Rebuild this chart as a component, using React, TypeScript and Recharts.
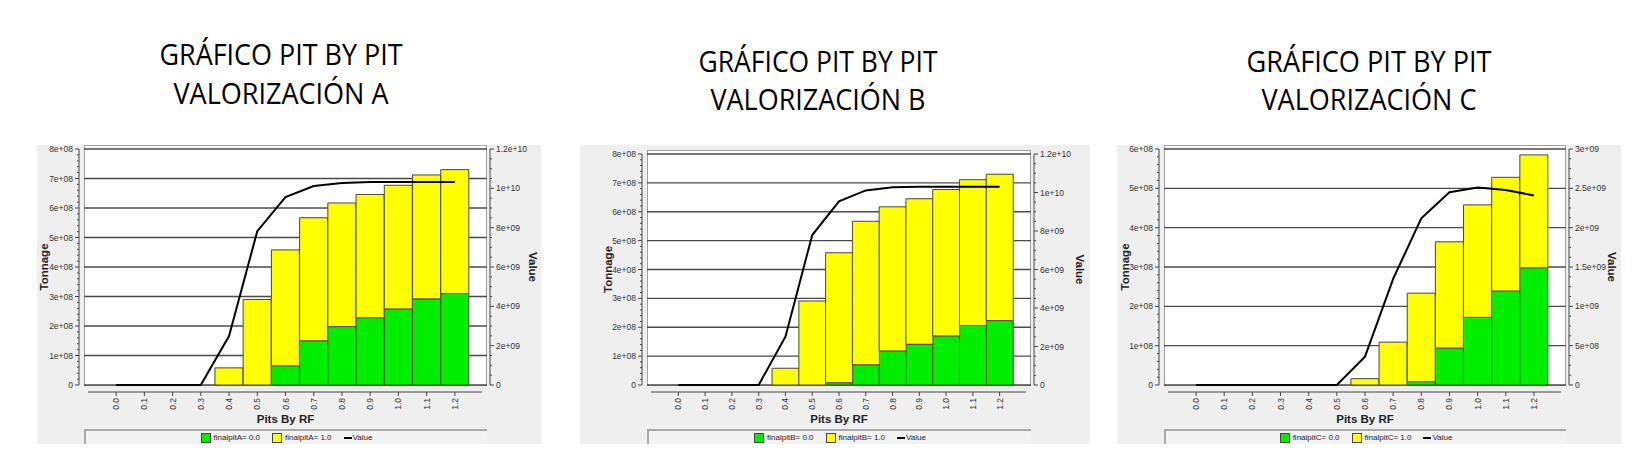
import { Bar, CartesianGrid, ComposedChart, Legend, Line, XAxis, YAxis } from "recharts"

const rf = ["0.0", "0.1", "0.2", "0.3", "0.4", "0.5", "0.6", "0.7", "0.8", "0.9", "1.0", "1.1", "1.2"]

// tonnage per pit (finalpit = 0.0 is green, finalpit = 1.0 is yellow, stacked)
const greenA = [0, 0, 0, 0, 0, 0, 65e6, 150e6, 198e6, 228e6, 258e6, 292e6, 310e6]
const yellowA = [0, 0, 0, 0, 58e6, 290e6, 393e6, 417e6, 419e6, 418e6, 419e6, 420e6, 420e6]
const valueA = [0, 0, 0, 0, 2.49e9, 7.82e9, 9.55e9, 10.12e9, 10.27e9, 10.32e9, 10.32e9, 10.32e9, 10.32e9]

const greenB = [0, 0, 0, 0, 0, 0, 8e6, 70e6, 118e6, 141e6, 170e6, 206e6, 223e6]
const yellowB = [0, 0, 0, 0, 58e6, 291e6, 450e6, 497e6, 499e6, 504e6, 507e6, 505e6, 507e6]
const valueB = [0, 0, 0, 0, 2.51e9, 7.79e9, 9.54e9, 10.11e9, 10.27e9, 10.3e9, 10.3e9, 10.3e9, 10.3e9]

const greenC = [0, 0, 0, 0, 0, 0, 0, 0, 8.5e6, 94e6, 172e6, 239e6, 298e6]
const yellowC = [0, 0, 0, 0, 0, 0, 16e6, 109e6, 225e6, 270e6, 286e6, 289e6, 287e6]
const valueC = [0, 0, 0, 0, 0, 0, 0.36e9, 1.35e9, 2.12e9, 2.45e9, 2.51e9, 2.48e9, 2.41e9]

const tonnageTicksAB = [0, 1e8, 2e8, 3e8, 4e8, 5e8, 6e8, 7e8, 8e8]
const valueTicksAB = [0, 2e9, 4e9, 6e9, 8e9, 1e10, 1.2e10]
const tonnageTicksC = [0, 1e8, 2e8, 3e8, 4e8, 5e8, 6e8]
const valueTicksC = [0, 5e8, 1e9, 1.5e9, 2e9, 2.5e9, 3e9]

const titleLine1 = "GRÁFICO PIT BY PIT"
const xTitle = "Pits By RF"
const leftTitle = "Tonnage"
const rightTitle = "Value"

const GREEN = "#00ee00"
const YELLOW = "#ffff00"
const BAR_EDGE = "#4a4a28"
const AXIS = "#444"
const X_AXIS_H = 59
const TICK_FONT = '"Liberation Sans", Arial, sans-serif'

const panels = [
  {
    key: "A", x: 37, y: 145, w: 504, h: 299, top: 4, left: 47, right: 54,
    green: greenA, yellow: yellowA, value: valueA,
    tTicks: tonnageTicksAB, vTicks: valueTicksAB, tSub: 5, vSub: 4,
    cx: 281, y1: 65, y2: 104, w1: 243, w2: 215, tonX: 7, valX: 496,
  },
  {
    key: "B", x: 580, y: 145, w: 510, h: 299, top: 9, left: 67, right: 59,
    green: greenB, yellow: yellowB, value: valueB,
    tTicks: tonnageTicksAB, vTicks: valueTicksAB, tSub: 5, vSub: 4,
    cx: 818, y1: 72, y2: 110, w1: 239, w2: 215, tonX: 28, valX: 500,
  },
  {
    key: "C", x: 1117, y: 145, w: 504, h: 299, top: 4, left: 47, right: 55,
    green: greenC, yellow: yellowC, value: valueC,
    tTicks: tonnageTicksC, vTicks: valueTicksC, tSub: 5, vSub: 4,
    cx: 1369, y1: 72, y2: 110, w1: 245, w2: 215, tonX: 8, valX: 495,
  },
]

const fmt = (v: number) =>
  v === 0 ? "0" : v.toExponential().replace(/e\+(\d)$/, "e+0$1")

function AxisTick(props: any) {
  const { x, y, payload, index, side, sub, step } = props
  const left = side === "left"
  const ax = left ? x - 5 : x + 3
  const dir = left ? -1 : 1
  return (
    <g>
      <line x1={ax} x2={ax + dir * 4} y1={y} y2={y} stroke={AXIS} />
      {index > 0 &&
        Array.from({ length: sub - 1 }, (_, k) => (
          <line
            key={k}
            x1={ax}
            x2={ax + dir * 2}
            y1={y + (k + 1) * step}
            y2={y + (k + 1) * step}
            stroke={AXIS}
          />
        ))}
      <text
        x={ax + dir * 6}
        y={y}
        dy={3}
        textAnchor={left ? "end" : "start"}
        fontSize={8.5}
        fontFamily={TICK_FONT}
        fill="#333"
      >
        {fmt(payload.value)}
      </text>
    </g>
  )
}

function RfTick({ x, y, payload }: any) {
  const ay = y + 7
  return (
    <g>
      <line x1={x} x2={x} y1={ay} y2={ay + 4} stroke={AXIS} />
      <text
        transform={`translate(${x + 3},${ay + 6}) rotate(-90)`}
        textAnchor="end"
        fontSize={8.5}
        fontFamily={TICK_FONT}
        fill="#333"
      >
        {payload.value}
      </text>
    </g>
  )
}

function LegendBox({ names }: { names: string[] }) {
  const swatch = (c: string) => (
    <span style={{ display: "inline-block", width: 8, height: 8, background: c, border: "1px solid #444", marginRight: 3 }} />
  )
  return (
    <div
      style={{
        boxSizing: "border-box", height: "100%", width: "100%",
        borderTop: "2px solid #a8a8a8", borderLeft: "2px solid #a8a8a8",
        background: "#f2f2f2", display: "flex", justifyContent: "center", alignItems: "center",
        gap: 12, fontSize: 8, fontFamily: TICK_FONT, color: "#222",
      }}
    >
      <span style={{ display: "flex", alignItems: "center" }}>{swatch(GREEN)}{names[0]}</span>
      <span style={{ display: "flex", alignItems: "center" }}>{swatch(YELLOW)}{names[1]}</span>
      <span style={{ display: "flex", alignItems: "center" }}>
        <span style={{ display: "inline-block", width: 8, height: 2, background: "#000", marginRight: 1 }} />
        {names[2]}
      </span>
    </div>
  )
}

function PitPanel({ p }: { p: (typeof panels)[number] }) {
  const plotH = p.h - p.top - X_AXIS_H
  const plotW = p.w - p.left - p.right
  const plotB = p.top + plotH
  const plotR = p.left + plotW
  const rows = rf.map((c, i) => ({ rf: c, g: p.green[i], y: p.yellow[i], v: p.value[i] }))
  const tStep = plotH / (p.tTicks.length - 1) / p.tSub
  const vStep = plotH / (p.vTicks.length - 1) / p.vSub
  const names = [`finalpit${p.key}= 0.0`, `finalpit${p.key}= 1.0`, rightTitle]
  const midY = p.top + plotH / 2
  return (
    <div style={{ position: "absolute", left: p.x, top: p.y, width: p.w, height: p.h, background: "#efefef" }}>
      <svg width={p.w} height={p.h} style={{ position: "absolute", left: 0, top: 0 }}>
        <rect x={p.left + 0.5} y={p.top - 3.5} width={plotW - 1} height={plotH + 4} fill="#fff" stroke="#a0a0a0" />
        <line x1={p.left - 5} x2={p.left - 5} y1={p.top} y2={plotB} stroke={AXIS} />
        <line x1={plotR + 3} x2={plotR + 3} y1={p.top} y2={plotB} stroke={AXIS} />
        <line x1={p.left + 4} x2={plotR - 5} y1={plotB + 7} y2={plotB + 7} stroke={AXIS} />
        <text
          transform={`translate(${p.tonX + 4},${midY}) rotate(-90)`}
          textAnchor="middle"
          fontSize={11.5}
          fontWeight="bold"
          fontFamily={TICK_FONT}
          fill="#222"
        >
          {leftTitle}
        </text>
        <text
          transform={`translate(${p.valX - 4},${midY}) rotate(90)`}
          textAnchor="middle"
          fontSize={11.5}
          fontWeight="bold"
          fontFamily={TICK_FONT}
          fill="#222"
        >
          {rightTitle}
        </text>
        <text
          x={p.left + plotW / 2}
          y={plotB + 38}
          textAnchor="middle"
          fontSize={11.5}
          fontWeight="bold"
          fontFamily={TICK_FONT}
          fill="#222"
        >
          {xTitle}
        </text>
      </svg>
      <ComposedChart
        width={p.w}
        height={p.h}
        data={rows}
        margin={{ top: p.top, right: 0, bottom: 0, left: 0 }}
        barCategoryGap={0}
        barGap={0}
      >
        <CartesianGrid vertical={false} stroke="#4a4a4a" strokeWidth={1.3} />
        <XAxis
          dataKey="rf"
          type="category"
          interval={0}
          height={X_AXIS_H}
          padding={{ left: 18, right: 18 }}
          axisLine={false}
          tickLine={false}
          tickSize={0}
          tickMargin={0}
          tick={(t: any) => <RfTick {...t} />}
        />
        <YAxis
          orientation="left"
          width={p.left}
          domain={[0, p.tTicks[p.tTicks.length - 1]]}
          ticks={p.tTicks}
          interval={0}
          axisLine={false}
          tickLine={false}
          tickSize={0}
          tickMargin={0}
          tick={(t: any) => <AxisTick {...t} side="left" sub={p.tSub} step={tStep} />}
        />
        <YAxis
          yAxisId="v"
          orientation="right"
          width={p.right}
          domain={[0, p.vTicks[p.vTicks.length - 1]]}
          ticks={p.vTicks}
          interval={0}
          axisLine={false}
          tickLine={false}
          tickSize={0}
          tickMargin={0}
          tick={(t: any) => <AxisTick {...t} side="right" sub={p.vSub} step={vStep} />}
        />
        <Bar dataKey="g" name={names[0]} stackId="s" fill={GREEN} stroke={BAR_EDGE} isAnimationActive={false} />
        <Bar dataKey="y" name={names[1]} stackId="s" fill={YELLOW} stroke={BAR_EDGE} isAnimationActive={false} />
        <Line
          yAxisId="v"
          dataKey="v"
          name={names[2]}
          type="linear"
          stroke="#000"
          strokeWidth={2}
          dot={false}
          activeDot={false}
          isAnimationActive={false}
        />
        <Legend
          layout="horizontal"
          verticalAlign="middle"
          align="center"
          wrapperStyle={{ position: "absolute", left: p.left, top: p.h - 15, width: plotW, height: 15 }}
          content={() => <LegendBox names={names} />}
        />
      </ComposedChart>
    </div>
  )
}

export default function App() {
  return (
    <div style={{ position: "absolute", left: 0, top: 0, width: 1644, height: 476, background: "#fff", overflow: "hidden" }}>
      <svg width={1644} height={140} style={{ position: "absolute", left: 0, top: 0 }}>
        {panels.map((p) => (
          <g key={p.key} fontFamily='"Open Sans", sans-serif' fontSize={30} fill="#000" textAnchor="middle">
            <text x={p.cx} y={p.y1} textLength={p.w1} lengthAdjust="spacingAndGlyphs">{titleLine1}</text>
            <text x={p.cx} y={p.y2} textLength={p.w2} lengthAdjust="spacingAndGlyphs">{`VALORIZACIÓN ${p.key}`}</text>
          </g>
        ))}
      </svg>
      {panels.map((p) => (
        <PitPanel key={p.key} p={p} />
      ))}
    </div>
  )
}
